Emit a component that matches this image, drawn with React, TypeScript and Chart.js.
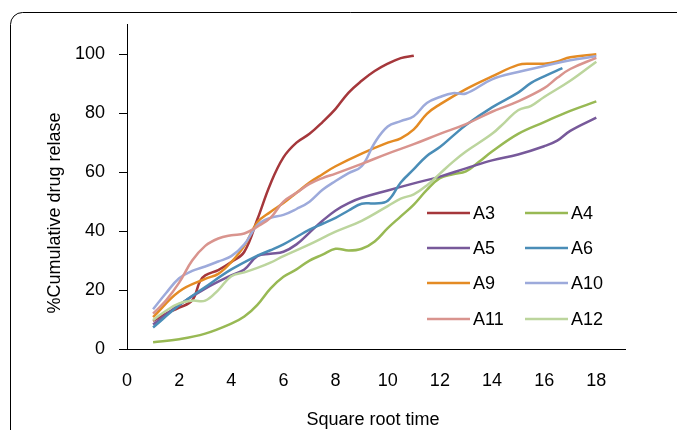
import { useEffect, useRef } from 'react';
import { Chart, registerables } from 'chart.js';

Chart.register(...registerables);

const seriesNames = ['A3', 'A4', 'A5', 'A6', 'A9', 'A10', 'A11', 'A12'];
const seriesColors = ['#A5373B', '#98B954', '#77599A', '#4A8DB7', '#E48B24', '#9DAADB', '#D9948E', '#BCD59D'];

const a3X = [1, 1.5, 2, 2.5, 2.8, 3, 3.5, 4, 4.5, 5, 5.5, 6, 6.5, 7, 7.5, 8, 8.5, 9, 9.5, 10, 10.5, 11];
const a3Y = [9.5, 12, 14, 16.5, 23, 25, 26.8, 29.5, 33, 44, 56, 65, 70, 73, 77, 81.5, 87, 91, 94.3, 96.8, 98.7, 99.5];

const a4X = [1, 2, 3, 4, 4.5, 5, 5.5, 6, 6.5, 7, 7.5, 8, 8.5, 9, 9.5, 10, 10.5, 11, 11.5, 12, 12.5, 13, 13.5, 14, 15, 16, 17, 18];
const a4Y = [2.3, 3.3, 5.2, 8.6, 11, 15, 20.5, 24.5, 27, 30, 32, 34, 33.4, 34, 36.5, 41, 45, 49, 54, 58, 59.3, 60.3, 63.5, 67, 73, 77, 80.8, 84];

const a5X = [1, 2, 3, 4, 4.5, 5, 5.5, 6, 6.5, 7, 7.5, 8, 8.5, 9, 10, 11, 12, 13, 14, 15, 16, 16.5, 17, 18];
const a5Y = [8.3, 15, 20.5, 25, 27, 31.5, 32.3, 33, 35.5, 39.5, 43.5, 47, 49.5, 51.3, 53.8, 56.2, 58.5, 61.3, 64, 66, 68.8, 70.7, 74, 78.5];

const a6X = [1, 2, 3, 4, 5, 5.5, 6, 6.5, 7, 7.5, 8, 8.5, 9, 9.5, 10, 10.5, 11, 11.5, 12, 12.5, 13, 14, 15, 15.5, 16, 16.7];
const a6Y = [7.3, 14.8, 21, 27, 31.7, 33.5, 35.5, 38, 40.5, 42.5, 44.5, 47, 49.3, 49.4, 50.3, 56.5, 61, 65.5, 68.5, 72.3, 76, 82, 87, 90.3, 92.5, 95.3];

const a9X = [1, 2, 3, 3.5, 4, 4.5, 5, 5.5, 6, 6.5, 7, 7.5, 8, 9, 10, 10.5, 11, 11.5, 12, 13, 14, 15, 15.5, 16, 16.5, 17, 18];
const a9Y = [10.8, 19.5, 23.8, 25.5, 29.5, 35, 43, 46.5, 49.5, 53, 56.5, 59.3, 62, 66.3, 70, 71.5, 74.5, 79.8, 83, 88.2, 92.5, 96.4, 96.8, 96.8, 97.6, 99, 100];

const a10X = [1, 1.5, 2, 2.5, 3, 3.5, 4, 4.5, 5, 5.5, 6, 6.5, 7, 7.5, 8, 8.5, 9, 9.5, 10, 10.5, 11, 11.5, 12, 12.5, 13, 14, 15, 16, 17, 18];
const a10Y = [13.5, 19, 24, 26.5, 28, 29.7, 31.5, 35.5, 42, 44.5, 45.5, 47.5, 50, 54, 57, 59.7, 62, 70, 75.5, 77.3, 79, 83.5, 85.5, 86.8, 86.7, 91.5, 94, 96, 98, 99.3];

const a11X = [1, 1.5, 2, 2.5, 3, 3.5, 4, 4.5, 5, 5.5, 6, 6.5, 7, 7.5, 8, 9, 10, 11, 12, 13, 14, 15, 16, 16.5, 17, 18];
const a11Y = [12, 16.5, 22.5, 30, 35, 37.5, 38.6, 39.2, 41.5, 44.5, 50, 53, 56, 58, 59.5, 62.8, 66.3, 69.5, 73, 76.3, 80.5, 84, 88.5, 92, 95, 98.8];

const a12X = [1, 1.5, 2, 2.5, 3, 3.5, 4, 4.5, 5, 5.5, 6, 7, 8, 9, 10, 10.5, 11, 11.5, 12, 12.5, 13, 14, 14.5, 15, 15.5, 16, 17, 18];
const a12Y = [9.8, 13, 15.5, 16.4, 16.4, 20, 24.7, 26, 27.5, 29.3, 31.5, 35.5, 39.8, 43.5, 48.5, 51, 52.5, 55.5, 59.5, 63.5, 67, 73, 77, 81, 82.5, 85.5, 91, 97.5];

const xTicks = [0, 2, 4, 6, 8, 10, 12, 14, 16, 18];
const yTicks = [0, 20, 40, 60, 80, 100];

const xTitle = 'Square root time';
const yTitle = '%Cumulative drug relase';

const FONT = '"Liberation Sans", Arial, sans-serif';

export default function App() {
  const ref = useRef<HTMLCanvasElement>(null);

  useEffect(() => {
    const canvas = ref.current;
    if (!canvas) return;
    const xsAll = [a3X, a4X, a5X, a6X, a9X, a10X, a11X, a12X];
    const ysAll = [a3Y, a4Y, a5Y, a6Y, a9Y, a10Y, a11Y, a12Y];
    const datasets = seriesNames.map((name, i) => ({
      label: name,
      data: xsAll[i].map((x, j) => ({ x, y: ysAll[i][j] })),
      borderColor: seriesColors[i],
      backgroundColor: seriesColors[i],
      borderWidth: 2.5,
      pointRadius: 0,
      tension: 0.4,
      fill: false,
      order: seriesNames.length - i,
    }));

    const framePlugin = {
      id: 'frame',
      beforeDraw(chart: any) {
        const ctx = chart.ctx;
        ctx.save();
        ctx.strokeStyle = '#000';
        ctx.lineWidth = 1;
        ctx.beginPath();
        ctx.roundRect(10.5, 12.5, 900, 700, 12);
        ctx.stroke();
        ctx.restore();
      },
    };

    const extrasPlugin = {
      id: 'extras',
      afterDraw(chart: any) {
        const ctx = chart.ctx;
        ctx.save();
        ctx.fillStyle = '#000';
        ctx.font = `18px ${FONT}`;
        ctx.textAlign = 'center';
        ctx.textBaseline = 'middle';
        ctx.fillText(xTitle, 373, 420);
        ctx.save();
        ctx.translate(55, 213);
        ctx.rotate(-Math.PI / 2);
        ctx.fillText(yTitle, 0, 0);
        ctx.restore();
        const colX = [427, 525];
        const rowY = [213, 248, 283, 319];
        seriesNames.forEach((name, i) => {
          const cx = colX[i % 2];
          const cy = rowY[Math.floor(i / 2)];
          ctx.strokeStyle = seriesColors[i];
          ctx.lineWidth = 2.7;
          ctx.beginPath();
          ctx.moveTo(cx, cy);
          ctx.lineTo(cx + 43, cy);
          ctx.stroke();
          ctx.fillStyle = '#000';
          ctx.textAlign = 'left';
          ctx.textBaseline = 'middle';
          ctx.fillText(name, cx + 46, cy + 1);
        });
        ctx.restore();
      },
    };

    const chart = new Chart(canvas, {
      type: 'line',
      data: { datasets },
      options: {
        animation: false,
        responsive: false,
        events: [],
        layout: { padding: { left: 10, top: 21, right: 52, bottom: 0 } },
        plugins: { legend: { display: false }, tooltip: { enabled: false } },
        scales: {
          x: {
            type: 'linear',
            min: 0,
            max: 19.1,
            afterBuildTicks: (s: any) => {
              s.ticks = xTicks.map((v) => ({ value: v }));
            },
            afterFit: (s: any) => {
              s.height = 81;
            },
            grid: { display: false, drawTicks: false },
            border: { display: true, color: '#000', width: 1 },
            ticks: {
              color: '#000',
              font: { family: FONT, size: 18 },
              padding: 21,
              maxRotation: 0,
              autoSkip: false,
            },
          },
          y: {
            type: 'linear',
            min: 0,
            max: 110,
            afterBuildTicks: (s: any) => {
              s.ticks = yTicks.map((v) => ({ value: v }));
            },
            afterFit: (s: any) => {
              s.width = 117;
            },
            grid: { display: true, drawOnChartArea: false, drawTicks: true, tickLength: 8, color: '#000' },
            border: { display: true, color: '#000', width: 1 },
            ticks: {
              color: '#000',
              font: { family: FONT, size: 18 },
              padding: 14,
              autoSkip: false,
            },
          },
        },
      },
      plugins: [framePlugin, extrasPlugin],
    } as any);

    return () => {
      chart.destroy();
    };
  }, []);

  return (
    <div style={{ position: 'fixed', left: 0, top: 0, width: 677, height: 430, background: '#fff', overflow: 'hidden' }}>
      <canvas ref={ref} width={677} height={430} style={{ display: 'block', width: 677, height: 430 }} />
    </div>
  );
}
